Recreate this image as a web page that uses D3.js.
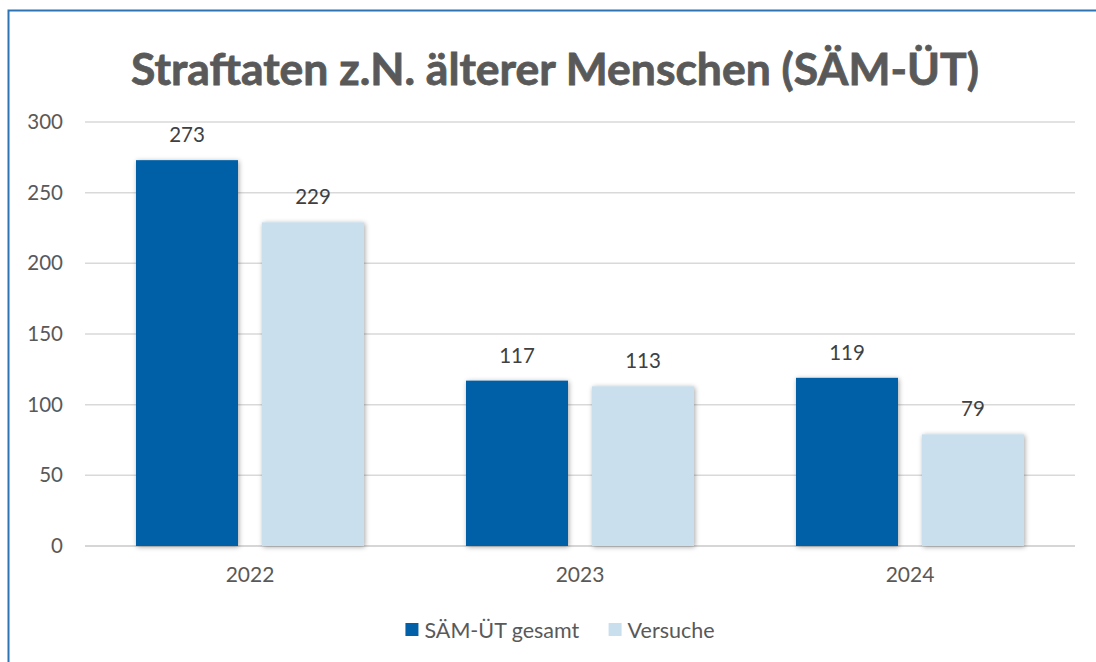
<!DOCTYPE html>
<html>
<head>
<meta charset="utf-8">
<script src="https://cdn.jsdelivr.net/npm/d3@7"></script>
<style>
  body { margin: 0; background: #fff; }
  svg { display: block; }
  text { font-family: Lato, "Open Sans", sans-serif; }
</style>
</head>
<body>
<svg id="chart" width="1096" height="662"></svg>
<script>
// data
const years = ["2022", "2023", "2024"];
const series = ["SÄM-ÜT gesamt", "Versuche"];
const gesamt = [273, 117, 119];
const versuche = [229, 113, 79];
const yTicks = [0, 50, 100, 150, 200, 250, 300];
const colors = ["#0160a7", "#c9dfee"];

const W = 1096, H = 662;
const svg = d3.select("#chart");

// defs: soft shadow round the bars
const defs = svg.append("defs");
const f = defs.append("filter").attr("id", "shadow")
  .attr("x", "-20%").attr("y", "-20%").attr("width", "140%").attr("height", "140%");
f.append("feDropShadow")
  .attr("dx", 1).attr("dy", 1).attr("stdDeviation", 2.5)
  .attr("flood-color", "#000").attr("flood-opacity", 0.35);

// outer blue frame (runs off the right and bottom)
svg.append("rect")
  .attr("x", 8.5).attr("y", 10.5)
  .attr("width", W + 20).attr("height", H + 20)
  .attr("fill", "none")
  .attr("stroke", "#2e74b5")
  .attr("stroke-width", 2);

// title, fitted to the width it has in the picture
const title = svg.append("text")
  .attr("x", 555).attr("y", 85)
  .attr("text-anchor", "middle")
  .attr("fill", "#595959")
  .attr("stroke", "#595959")
  .attr("stroke-width", 0.8)
  .attr("font-weight", "bold")
  .attr("font-size", 44)
  .text("Straftaten z.N. älterer Menschen (SÄM-ÜT)");
let tw = title.node().getComputedTextLength();
title.attr("font-size", 44 * 848 / tw);

// scales
const x0 = d3.scaleBand().domain(years).range([85, 1075]);
const x1 = d3.scaleBand().domain(series).range([51, 279]).paddingInner(0.1905);
const y = d3.scaleLinear().domain([0, 300]).range([546, 122]);

// gridlines
svg.append("g")
  .selectAll("line")
  .data(yTicks)
  .join("line")
    .attr("x1", 85).attr("x2", 1075)
    .attr("y1", d => y(d)).attr("y2", d => y(d))
    .attr("stroke", d => d === 0 ? "#c8c8c8" : "#d9d9d9")
    .attr("stroke-width", 1.5);

// y axis labels
const yAxis = svg.append("g")
  .attr("transform", "translate(63,0)")
  .call(d3.axisLeft(y).tickValues(yTicks).tickSize(0).tickPadding(0));
yAxis.select(".domain").remove();
yAxis.selectAll("text")
  .attr("font-family", "Lato, 'Open Sans', sans-serif")
  .attr("font-size", 20.5)
  .attr("fill", "#595959");

// x axis labels
const xAxis = svg.append("g")
  .attr("transform", "translate(0,546)")
  .call(d3.axisBottom(x0).tickSize(0).tickPadding(21));
xAxis.select(".domain").remove();
xAxis.selectAll("text")
  .attr("font-family", "Lato, 'Open Sans', sans-serif")
  .attr("font-size", 21)
  .attr("fill", "#595959");

// bars
const rows = years.map((yr, i) => ({
  year: yr,
  values: [{ s: series[0], v: gesamt[i] }, { s: series[1], v: versuche[i] }]
}));

const groups = svg.append("g")
  .selectAll("g")
  .data(rows)
  .join("g")
    .attr("transform", d => `translate(${x0(d.year)},0)`);

groups.selectAll("rect")
  .data(d => d.values)
  .join("rect")
    .attr("x", d => x1(d.s))
    .attr("y", d => y(d.v))
    .attr("width", x1.bandwidth())
    .attr("height", d => y(0) - y(d.v))
    .attr("fill", (d, i) => colors[i])
    .attr("filter", "url(#shadow)");

groups.selectAll("text")
  .data(d => d.values)
  .join("text")
    .attr("x", d => x1(d.s) + x1.bandwidth() / 2)
    .attr("y", d => y(d.v) - 18)
    .attr("text-anchor", "middle")
    .attr("font-size", 20.5)
    .attr("fill", "#404040")
    .text(d => d.v);

// legend
const legend = svg.append("g").attr("transform", "translate(0,630)");
const items = legend.selectAll("g")
  .data(series)
  .join("g");
items.append("rect")
  .attr("y", -7).attr("width", 13).attr("height", 13)
  .attr("fill", (d, i) => colors[i]);
items.append("text")
  .attr("x", 19).attr("dy", "0.35em")
  .attr("font-size", 21.5)
  .attr("fill", "#595959")
  .text(d => d);

// lay the items out side by side, centred
let widths = [];
items.each(function() { widths.push(this.getBBox().width); });
const gap = 29;
const total = d3.sum(widths) + gap * (widths.length - 1);
let cx = 560 - total / 2;
items.attr("transform", (d, i) => {
  const t = `translate(${cx},0)`;
  cx += widths[i] + gap;
  return t;
});
</script>
</body>
</html>
